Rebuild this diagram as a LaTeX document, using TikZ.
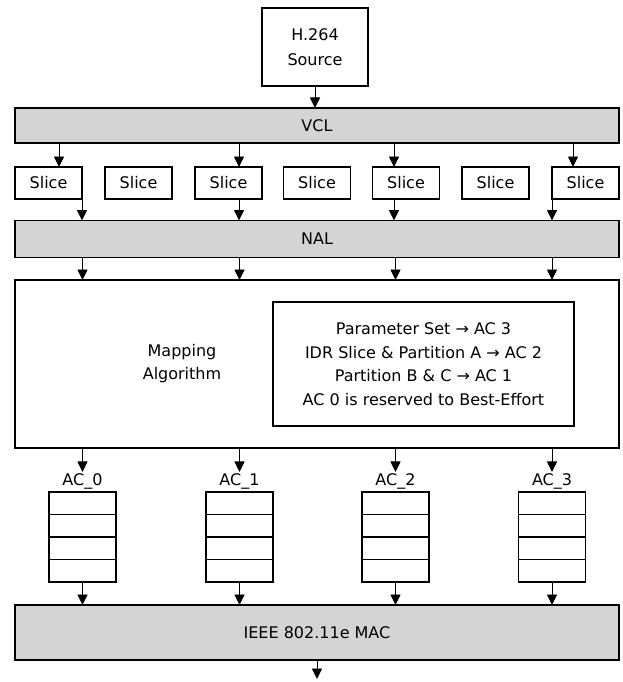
\documentclass[tikz,border=0pt]{standalone}
\usepackage{fontspec}
\setmainfont{DejaVu Sans}
\usepackage{tikz}
\usetikzlibrary{calc}
\usetikzlibrary{arrows.meta}
\tikzset{>={Triangle[length=10.5pt,width=10pt]}}
\tikzset{box/.style = {shape=rectangle,draw,line width=1.2pt,
inner sep=0pt, outer sep=0pt, align=center,
font=\fontsize{16}{25}\selectfont}}
\tikzset{layer/.style = {box, fill=black!17, minimum width=604pt}}
\tikzset{slicebox/.style = {box, minimum width=67pt, minimum height=32pt}}
\tikzset{cell/.style = {box, minimum width=67pt, minimum height=22.5pt}}
\tikzset{aclabel/.style = {font=\fontsize{16}{18}\selectfont, inner sep=1pt}}
\tikzset{flow/.style = {->, line width=0.9pt}}

\begin{document}
\begin{tikzpicture}[x=1pt,y=-1pt]
                \useasboundingbox (0,0) rectangle (622,682);

                \node[box, minimum width=106pt, minimum height=78pt] (src) at (315,47) {H.264\\Source};
                \node[layer, minimum height=35pt] (vcl) at (317,125.5) {VCL};

                \node[slicebox] (s1) at (48.5,183) {Slice};
                \node[slicebox] (s2) at (138.5,183) {Slice};
                \node[slicebox] (s3) at (228.5,183) {Slice};
                \node[slicebox] (s4) at (317,183) {Slice};
                \node[slicebox] (s5) at (406,183) {Slice};
                \node[slicebox] (s6) at (495.5,183) {Slice};
                \node[slicebox] (s7) at (585.5,183) {Slice};

                \node[layer, minimum height=37pt] (nal) at (317,239) {NAL};
                \node[box, minimum width=604pt, minimum height=168pt] (map) at (317,364) {};
                \node[font=\fontsize{16}{23}\selectfont, align=center] (algo) at (182,364) {Mapping\\Algorithm};
                \node[box, minimum width=301pt, minimum height=124pt, font=\fontsize{16}{23.5}\selectfont] (rules) at (423.5,364)
                    {Parameter Set → AC 3\\IDR Slice \& Partition A → AC 2\\Partition B \& C → AC 1\\AC 0 is reserved to Best-Effort};

                \node[cell] (q0a) at (82.5,503.25) {};
                \node[cell] (q0b) at (82.5,525.75) {};
                \node[cell] (q0c) at (82.5,548.25) {};
                \node[cell] (q0d) at (82.5,570.75) {};
                \node[cell] (q1a) at (239.5,503.25) {};
                \node[cell] (q1b) at (239.5,525.75) {};
                \node[cell] (q1c) at (239.5,548.25) {};
                \node[cell] (q1d) at (239.5,570.75) {};
                \node[cell] (q2a) at (395.5,503.25) {};
                \node[cell] (q2b) at (395.5,525.75) {};
                \node[cell] (q2c) at (395.5,548.25) {};
                \node[cell] (q2d) at (395.5,570.75) {};
                \node[cell] (q3a) at (552,503.25) {};
                \node[cell] (q3b) at (552,525.75) {};
                \node[cell] (q3c) at (552,548.25) {};
                \node[cell] (q3d) at (552,570.75) {};

                \node[aclabel] (ac0) at (82.5,481) {AC\_0};
                \node[aclabel] (ac1) at (239.5,481) {AC\_1};
                \node[aclabel] (ac2) at (395.5,481) {AC\_2};
                \node[aclabel] (ac3) at (552,481) {AC\_3};

                \node[layer, minimum height=55pt] (mac) at (317,632.5) {IEEE 802.11e MAC};
                \coordinate (out) at (317,679);

                \coordinate (t1) at ($(s1.north)+(10.5,0)$);
                \coordinate (t3) at ($(s3.north)+(10.5,0)$);
                \coordinate (t5) at ($(s5.north)+(-12,0)$);
                \coordinate (t7) at ($(s7.north)+(-12.5,0)$);
                \coordinate (b3) at ($(s3.south)+(10.5,0)$);
                \coordinate (b5) at ($(s5.south)+(-12,0)$);

                \draw[flow] (src) -- (src |- vcl.north);

                \draw[flow] (t1 |- vcl.south) -- (t1);
                \draw[flow] (t3 |- vcl.south) -- (t3);
                \draw[flow] (t5 |- vcl.south) -- (t5);
                \draw[flow] (t7 |- vcl.south) -- (t7);

                \draw[flow] (s1.south east) -- (s1.south east |- nal.north);
                \draw[flow] (b3) -- (b3 |- nal.north);
                \draw[flow] (b5) -- (b5 |- nal.north);
                \draw[flow] (s7.south west) -- (s7.south west |- nal.north);

                \draw[flow] (q0a.north |- nal.south) -- (q0a.north |- map.north);
                \draw[flow] (q1a.north |- nal.south) -- (q1a.north |- map.north);
                \draw[flow] (q2a.north |- nal.south) -- (q2a.north |- map.north);
                \draw[flow] (q3a.north |- nal.south) -- (q3a.north |- map.north);

                \draw[flow] (q0a.north |- map.south) -- (ac0);
                \draw[flow] (q1a.north |- map.south) -- (ac1);
                \draw[flow] (q2a.north |- map.south) -- (ac2);
                \draw[flow] (q3a.north |- map.south) -- (ac3);

                \draw[flow] (q0d.south) -- (q0d.south |- mac.north);
                \draw[flow] (q1d.south) -- (q1d.south |- mac.north);
                \draw[flow] (q2d.south) -- (q2d.south |- mac.north);
                \draw[flow] (q3d.south) -- (q3d.south |- mac.north);

                \draw[flow] (mac) -- (out);
            \end{tikzpicture}
\end{document}
